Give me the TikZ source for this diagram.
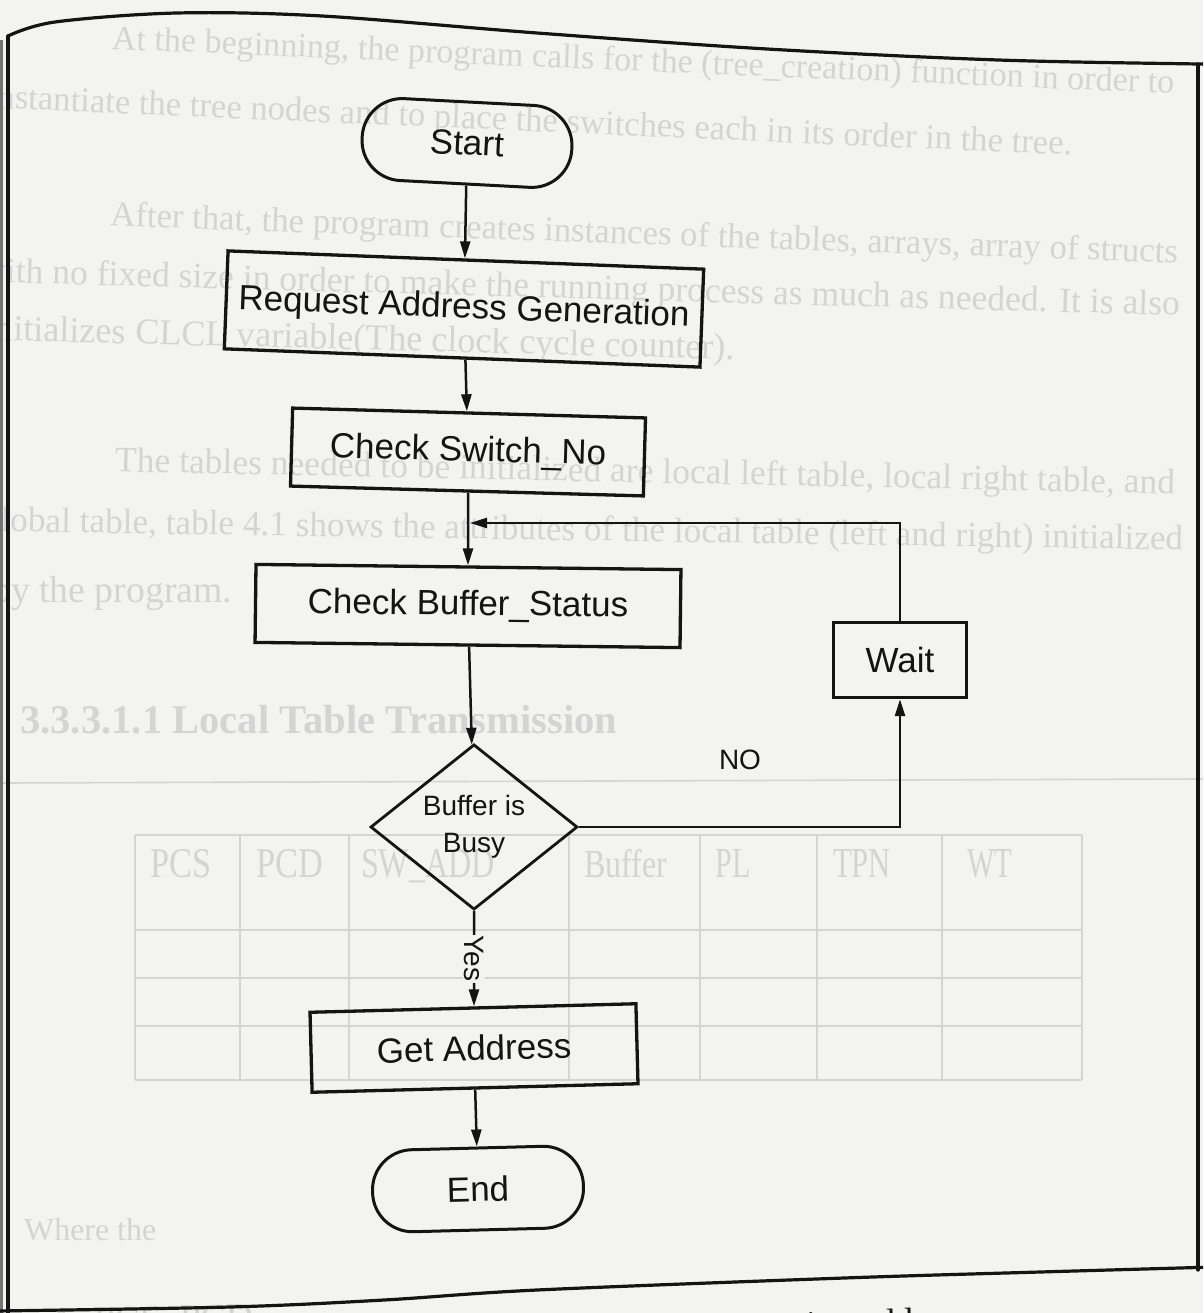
\documentclass[tikz,border=0pt]{standalone}
\usepackage{graphicx}
\usepackage{fontspec}
\setmainfont{Liberation Serif}
\newfontfamily\flowfont{Liberation Sans}
\usetikzlibrary{shapes.geometric,arrows.meta}

\definecolor{paper}{RGB}{243,243,242}
\definecolor{ink}{RGB}{20,20,20}
\definecolor{ghost}{RGB}{212,212,212}

% faint body text seen through the sheet
\newcommand{\ghostline}[2]{\resizebox{#1}{!}{\fontsize{26}{26}\selectfont #2}}
\newcommand{\ghosthead}[2]{\resizebox{#1}{28pt}{\fontsize{30}{30}\selectfont #2}}

\begin{document}
\begin{tikzpicture}[x=1pt,y=-1pt,
  flowtext/.style={font=\flowfont\fontsize{35}{40}\selectfont, text=ink},
  procbox/.style={flowtext, draw=ink, line width=3.3pt, rectangle, inner sep=0pt},
  termbox/.style={procbox, line width=3pt, rounded corners=40pt},
  decbox/.style={draw=ink, line width=2.8pt, diamond, inner sep=0pt, align=center,
                 font=\flowfont\fontsize{28}{37}\selectfont, text=ink},
  flow/.style={draw=ink, line width=2.5pt, -{Triangle[length=17pt,width=10pt]}},
  lbl/.style={font=\flowfont\fontsize{28}{28}\selectfont, text=ink, inner sep=1pt},
  ghost/.style={text=ghost, inner sep=0pt},
  ghostrule/.style={draw=ghost, line width=1.6pt},
  frame/.style={draw=ink, line width=3.2pt, line cap=round, line join=round}]

\useasboundingbox (0,0) rectangle (1203,1313);
\clip (0,0) rectangle (1203,1313);
\fill[paper] (0,0) rectangle (1203,1313);

% ---------- page text behind the chart ----------
\node[ghost, rotate=-2.4] (g1) at (643,63)
  {\ghostline{1063pt}{At the beginning, the program calls for the (tree\_creation) function in order to}};
\node[ghost, rotate=-2.5] (g2) at (530,123)
  {\ghostline{1085pt}{instantiate the tree nodes and to place the switches each in its order in the tree.}};
\node[ghost, rotate=-2] (g3) at (644,236)
  {\ghostline{1068pt}{After that, the program creates instances of the tables, arrays, array of structs}};
\node[ghost, rotate=-1.6] (g4) at (580,290)
  {\ghostline{1200pt}{with no fixed size in order to make the running process as much as needed. It is also}};
\node[ghost, rotate=-1.5] (g5) at (360,341)
  {\ghostline{750pt}{initializes CLCL variable(The clock cycle counter).}};
\node[ghost, rotate=-1.2] (g6) at (645,474)
  {\ghostline{1060pt}{The tables needed to be initialized are local left table, local right table, and}};
\node[ghost, rotate=-0.9] (g7) at (583,532)
  {\ghostline{1200pt}{global table, table 4.1 shows the attributes of the local table (left and right) initialized}};
\node[ghost, anchor=west] (g8) at (-8,593)
  {\ghostline{240pt}{by the program.}};
\node[ghost, anchor=west] (g9) at (20,720)
  {\resizebox{597pt}{!}{\fontsize{30}{30}\selectfont\bfseries 3.3.3.1.1 Local Table Transmission}};
\draw[ghostrule] (0,783) -- (1203,779);

% attribute table
\foreach \x in {135,240,349,569,700,817,942,1082}
  \draw[ghostrule] (\x,835) -- (\x,1080);
\foreach \y in {835,930,978,1026,1080}
  \draw[ghostrule] (135,\y) -- (1082,\y);
\node[ghost, anchor=base] (t1) at (181,877) {\ghosthead{61pt}{PCS}};
\node[ghost, anchor=base] (t2) at (290,877) {\ghosthead{67pt}{PCD}};
\node[ghost, anchor=base] (t3) at (428,877) {\ghosthead{134pt}{SW\_ADD}};
\node[ghost, anchor=base] (t4) at (626,877) {\ghosthead{83pt}{Buffer}};
\node[ghost, anchor=base] (t5) at (733,877) {\ghosthead{35pt}{PL}};
\node[ghost, anchor=base] (t6) at (862,877) {\ghosthead{58pt}{TPN}};
\node[ghost, anchor=base] (t7) at (990,877) {\ghosthead{45pt}{WT}};

\node[ghost, anchor=west] (g10) at (24,1230) {\ghostline{132pt}{Where the}};
\node[ghost, anchor=base west, rotate=1.5] (g11) at (54,1334) {\ghostline{200pt}{1- PCS, PCD}};
\node[anchor=base east, rotate=2, inner sep=0pt, text=ink] (g12) at (970,1331)
  {\fontsize{36}{36}\selectfont destination address};

% ---------- sheet outline ----------
\fill[black!55] (0,40) rectangle (3,1313);
\draw[frame] plot[smooth, tension=0.55] coordinates
  {(8,36) (55,22) (177,13) (322,16) (537,33) (767,49) (998,60) (1198,64) (1215,64)};
\draw[frame] (8,36) -- (8,1318);
\draw[frame] (1198,64) -- (1198,1270);
\draw[frame] plot[smooth, tension=0.55] coordinates
  {(-5,1311) (230,1307) (384,1300) (537,1290) (844,1278) (1040,1272) (1215,1267)};

% ---------- flowchart ----------
\node[termbox, minimum width=210pt, minimum height=82pt, rotate=-3] (start) at (467,143) {Start};
\node[procbox, minimum width=476pt, minimum height=98pt, rotate=-2.2] (req) at (464,309) {Request Address Generation};
\node[procbox, minimum width=353pt, minimum height=78pt, rotate=-1.6] (sw) at (468,452) {Check Switch\_No};
\node[procbox, minimum width=425pt, minimum height=78pt, rotate=-0.7] (cb) at (468,606) {Check Buffer\_Status};
\node[procbox, minimum width=133pt, minimum height=75pt] (wait) at (900,660) {Wait};
\node[decbox, minimum width=207pt, minimum height=157pt] (dec) at (474,827) {Buffer is\\Busy};
\node[procbox, minimum width=326pt, minimum height=80pt, rotate=1.5] (get) at (474,1048) {Get Address};
\node[termbox, minimum width=211pt, minimum height=82pt, rotate=1.5] (end) at (478,1189) {End};

\coordinate (merge) at (470,523);

\draw[flow] (start) -- (req);
\draw[flow] (req) -- (sw);
\draw[flow] (sw) -- (cb);
\draw[flow] (cb) -- (dec);
\draw[flow] (dec) -- node[lbl, rotate=-90, fill=paper] (yes) {Yes} (get);
\draw[flow] (get) -- (end);
\draw[flow] (dec.east) -| (wait.south);
\draw[flow] (wait.north) |- (merge);
\node[lbl] (no) at (740,760) {NO};

\end{tikzpicture}
\end{document}
